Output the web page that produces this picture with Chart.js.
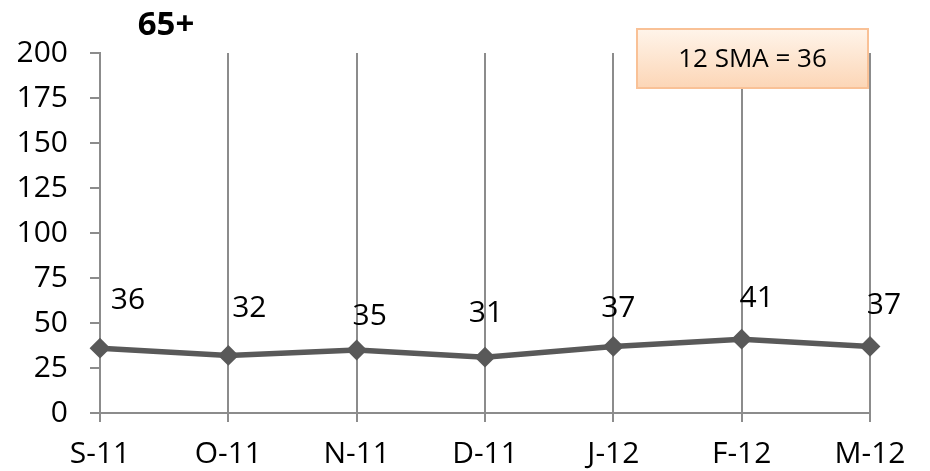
<!DOCTYPE html>
<html>
<head>
<meta charset="utf-8">
<script src="https://cdn.jsdelivr.net/npm/chart.js@4/dist/chart.umd.min.js"></script>
<style>
  html, body { margin: 0; padding: 0; background: #ffffff; }
  #wrap { width: 930px; height: 471px; position: relative; }
</style>
</head>
<body>
<div id="wrap"><canvas id="chart" width="930" height="471"></canvas></div>
<script>
// Monthly counts for the 65+ group
const months = ['S-11', 'O-11', 'N-11', 'D-11', 'J-12', 'F-12', 'M-12'];
const counts65 = [36, 32, 35, 31, 37, 41, 37];
const chartTitle = '65+';
const smaPeriod = 12;
const smaValue = 36;
const yMin = 0, yMax = 200, yStep = 25;

const FONT = '"Open Sans", "Noto Sans", sans-serif';

// Hand-placed value labels: shift from each point, in pixels
const labelShift = [[28, -48], [21, -47], [13, -34], [1, -44], [5, -38], [15, -41], [14, -41]];

const decorations = {
  id: 'decorations',
  afterDatasetsDraw(chart) {
    const ctx = chart.ctx;
    const meta = chart.getDatasetMeta(0);
    ctx.save();
    // value labels
    ctx.fillStyle = '#000000';
    ctx.font = '30px ' + FONT;
    ctx.textAlign = 'center';
    ctx.textBaseline = 'middle';
    meta.data.forEach((pt, i) => {
      const s = labelShift[i];
      ctx.fillText(String(chart.data.datasets[0].data[i]), pt.x + s[0], pt.y + s[1]);
    });
    // title
    ctx.font = 'bold 33px ' + FONT;
    ctx.fillText(chartTitle, 166, 26);
    // moving-average note box
    const bx = 637, by = 29, bw = 231, bh = 59;
    const g = ctx.createLinearGradient(0, by, 0, by + bh);
    g.addColorStop(0, '#FFF4EA');
    g.addColorStop(1, '#FCD6B6');
    ctx.fillStyle = g;
    ctx.fillRect(bx, by, bw, bh);
    ctx.strokeStyle = '#F9C196';
    ctx.lineWidth = 2;
    ctx.strokeRect(bx, by, bw, bh);
    ctx.fillStyle = '#000000';
    ctx.font = '26px ' + FONT;
    ctx.fillText(smaPeriod + ' SMA = ' + smaValue, bx + bw / 2, by + bh / 2 + 1);
    ctx.restore();
  }
};

new Chart(document.getElementById('chart'), {
  type: 'line',
  data: {
    labels: months,
    datasets: [{
      data: counts65,
      borderColor: '#595959',
      backgroundColor: '#595959',
      borderWidth: 5.5,
      pointStyle: 'rectRot',
      pointRadius: 9,
      pointBorderWidth: 2,
      pointBackgroundColor: '#595959',
      pointBorderColor: '#595959',
      tension: 0,
      clip: false
    }]
  },
  options: {
    responsive: false,
    animation: false,
    devicePixelRatio: 1,
    layout: { padding: { top: 53, right: 60, left: 0, bottom: 0 } },
    plugins: { legend: { display: false }, tooltip: { enabled: false }, title: { display: false } },
    scales: {
      x: {
        offset: false,
        afterFit(scale) { scale.height = 58; },
        grid: { display: true, drawOnChartArea: true, drawTicks: true, tickLength: 9, color: '#8C8C8C', lineWidth: 2 },
        border: { display: true, color: '#8C8C8C', width: 2 },
        ticks: { color: '#000000', font: { family: FONT, size: 30 }, padding: 14, maxRotation: 0, autoSkip: false }
      },
      y: {
        min: yMin, max: yMax,
        afterFit(scale) { scale.width = 100; },
        grid: { display: true, drawOnChartArea: false, drawTicks: true, tickLength: 10, color: '#8C8C8C', lineWidth: 2 },
        border: { display: true, color: '#8C8C8C', width: 2 },
        ticks: { stepSize: yStep, color: '#000000', font: { family: FONT, size: 30 }, padding: 22 }
      }
    }
  },
  plugins: [decorations]
});
</script>
</body>
</html>
